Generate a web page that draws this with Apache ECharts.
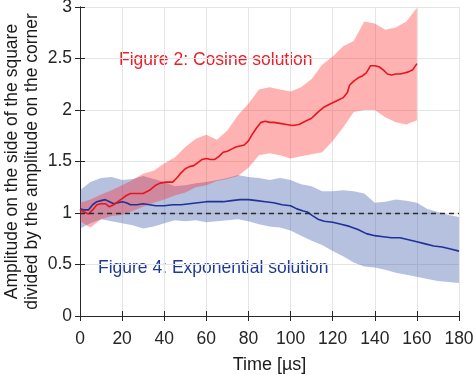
<!DOCTYPE html>
<html>
<head>
<meta charset="utf-8">
<script src="https://cdn.jsdelivr.net/npm/echarts@6/dist/echarts.min.js"></script>
<style>
  html, body { margin: 0; padding: 0; background: #fff; }
  #box { width: 475px; height: 375px; }
</style>
</head>
<body>
<div id="box"></div>
<script>
// band grid (µs)
var bandT = [0,5,10,15,20,25,30,35,40,45,50,55,60,65,70,75,80,85,90,95,100,105,110,115,120,125,130,135,140,145,150,155,160,165,170,175,180];

// Figure 4: exponential solution (blue)
var blueUpper = [1.22,1.30,1.34,1.35,1.32,1.33,1.36,1.33,1.30,1.26,1.27,1.29,1.30,1.32,1.34,1.37,1.35,1.34,1.32,1.34,1.32,1.28,1.26,1.21,1.21,1.22,1.21,1.19,1.10,1.11,1.13,1.12,1.10,1.04,1.01,0.98,0.96];
var blueLower = [0.85,0.90,0.94,0.92,0.90,0.88,0.85,0.87,0.90,0.93,0.92,0.93,0.91,0.92,0.93,0.94,0.92,0.89,0.87,0.86,0.83,0.78,0.73,0.69,0.63,0.58,0.52,0.48,0.47,0.45,0.42,0.40,0.38,0.36,0.34,0.33,0.32];
var blueT = [0,2,4,6,8,10,12,14,16,18,20,22,24,27,30,33,36,40,44,48,52,56,60,64,68,72,76,80,84,88,92,96,100,103,106,108,110,113,116,120,124,128,132,136,140,144,148,152,156,160,164,168,172,176,180];
var blueMean = [1.04,1.03,1.03,1.08,1.11,1.12,1.13,1.11,1.09,1.10,1.11,1.10,1.08,1.08,1.09,1.08,1.07,1.07,1.08,1.08,1.09,1.10,1.11,1.11,1.11,1.12,1.13,1.13,1.12,1.11,1.10,1.08,1.07,1.04,1.02,1.01,0.98,0.94,0.92,0.91,0.89,0.87,0.84,0.80,0.78,0.77,0.76,0.76,0.74,0.72,0.70,0.68,0.67,0.65,0.63];

// Figure 2: cosine solution (red), up to 160 µs
var redUpper = [1.10,1.13,1.18,1.22,1.27,1.32,1.38,1.41,1.48,1.54,1.64,1.72,1.76,1.71,1.80,1.95,2.06,2.20,2.22,2.20,2.18,2.22,2.30,2.44,2.52,2.62,2.67,2.86,2.84,2.78,2.80,2.86,2.99];
var redLower = [0.92,0.86,0.94,0.97,0.98,1.02,1.06,1.10,1.13,1.17,1.20,1.25,1.27,1.31,1.33,1.36,1.44,1.56,1.58,1.56,1.53,1.55,1.57,1.59,1.70,1.83,1.98,2.00,2.00,1.93,1.88,1.86,1.90];
var redT = [0,2,4,6,8,10,12,14,16,18,20,22,24,27,30,33,36,38,41,44,46,48,50,52,54,56,58,60,62,64,66,68,70,72,74,76,78,80,82,84,86,88,90,92,95,98,101,104,107,110,113,116,119,122,125,127,128,130,132,134,136,138,140,142,144,146,148,150,152,154,156,158,160];
var redMean = [1.03,1.01,0.99,1.03,1.08,1.09,1.09,1.06,1.08,1.11,1.14,1.17,1.19,1.19,1.19,1.22,1.27,1.29,1.30,1.30,1.34,1.39,1.43,1.45,1.46,1.49,1.52,1.53,1.52,1.52,1.55,1.59,1.60,1.62,1.64,1.65,1.66,1.70,1.77,1.83,1.88,1.89,1.88,1.88,1.87,1.86,1.85,1.86,1.89,1.92,1.98,2.03,2.06,2.09,2.12,2.17,2.24,2.28,2.31,2.33,2.36,2.43,2.43,2.42,2.39,2.35,2.34,2.35,2.35,2.36,2.37,2.39,2.45];

function pairs(t, v) { return t.map(function (x, i) { return [x, v[i]]; }); }

// shaded band between lower and upper, drawn as one polygon through the axes
function band(lo, hi, color) {
  var n = lo.length;
  return {
    type: 'custom', silent: true, z: 1,
    data: [[bandT[0], lo[0]]],
    renderItem: function (params, api) {
      var pts = [];
      for (var i = 0; i < n; i++) pts.push(api.coord([bandT[i], hi[i]]));
      for (var j = n - 1; j >= 0; j--) pts.push(api.coord([bandT[j], lo[j]]));
      return { type: 'polygon', shape: { points: pts }, style: { fill: color } };
    }
  };
}

var font = "'Liberation Sans', Arial, Helvetica, sans-serif";
var txt = '#262626';
var chart = echarts.init(document.getElementById('box'));

var axisCommon = {
  axisLine: { show: true, lineStyle: { color: txt, width: 1 } },
  axisTick: { show: true, inside: true, length: 5, lineStyle: { color: txt } },
  splitLine: { show: false }
};

var option = {
  animation: false,
  backgroundColor: '#fff',
  grid: { left: 80, right: 16, top: 7, bottom: 59, containLabel: false, outerBoundsMode: 'none' },
  xAxis: [
    Object.assign({
      type: 'value', min: 0, max: 180, interval: 20, position: 'bottom',
      name: 'Time [µs]', nameLocation: 'middle', nameGap: 40, nameMoveOverlap: false,
      nameTextStyle: { fontFamily: font, fontSize: 18, color: '#1a1a1a' },
      axisLabel: { fontFamily: font, fontSize: 17.5, color: txt, margin: 14 }
    }, axisCommon, { splitLine: { show: true, lineStyle: { color: '#e5e5e5' } } }),
    Object.assign({
      type: 'value', min: 0, max: 180, interval: 20, position: 'top',
      axisLabel: { show: false }
    }, axisCommon)
  ],
  yAxis: [
    Object.assign({
      type: 'value', min: 0, max: 3, interval: 0.5, position: 'left',
      name: 'Amplitude on the side of the square\ndivided by the amplitude on the corner',
      nameLocation: 'middle', nameGap: 38, nameMoveOverlap: false,
      nameTextStyle: { fontFamily: font, fontSize: 17.5, color: '#1a1a1a', lineHeight: 20 },
      axisLabel: { fontFamily: font, fontSize: 17.5, color: txt, margin: 8 }
    }, axisCommon, { splitLine: { show: true, lineStyle: { color: '#e5e5e5' } } }),
    Object.assign({
      type: 'value', min: 0, max: 3, interval: 0.5, position: 'right',
      axisLabel: { show: false }
    }, axisCommon)
  ],
  series: [
    band(blueLower, blueUpper, 'rgba(40,70,160,0.34)'),
    band(redLower, redUpper, 'rgba(255,30,30,0.34)'),
    { type: 'line', z: 3, data: pairs(blueT, blueMean), symbol: 'none', lineStyle: { color: '#1f3296', width: 1.6 },
      markLine: { silent: true, symbol: 'none', label: { show: false },
        lineStyle: { color: '#2a2a2a', type: [5, 4], width: 1.3 }, data: [{ yAxis: 1 }] } },
    { type: 'line', z: 3, data: pairs(redT, redMean), symbol: 'none', lineStyle: { color: '#e8141e', width: 1.6 } }
  ],
  graphic: [
    { type: 'text', left: 119, top: 51, style: { text: 'Figure 2: Cosine solution', fill: '#e8202a', font: '17.5px ' + font } },
    { type: 'text', left: 98, top: 259, style: { text: 'Figure 4: Exponential solution', fill: '#1f3a96', font: '17.5px ' + font } }
  ]
};
chart.setOption(option);
</script>
</body>
</html>
